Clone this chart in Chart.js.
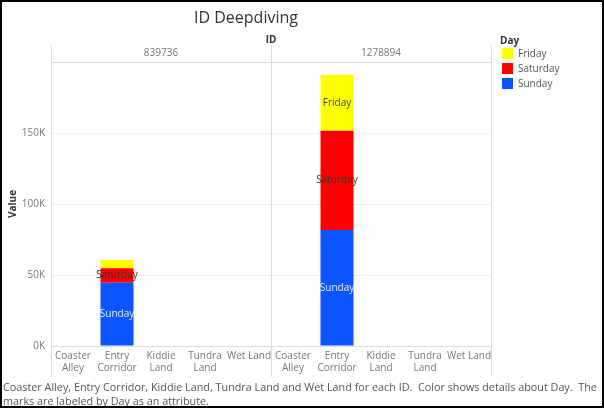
<!DOCTYPE html>
<html>
<head>
<meta charset="utf-8">
<script src="https://cdn.jsdelivr.net/npm/chart.js@4.4.1/dist/chart.umd.min.js"></script>
<style>
  body { margin: 0; background: #fff; font-family: "Open Sans", sans-serif; }
  #wrap { position: relative; width: 604px; height: 408px; overflow: hidden; }
  #frame { position: absolute; left: 0; top: 0; width: 604px; height: 408px; box-sizing: border-box; border: 2px solid #000; pointer-events: none; }
  #title { position: absolute; left: 0; top: 6px; width: 492px; text-align: center; font-size: 16px; color: #333; }
  #legend { position: absolute; left: 500px; top: 33px; font-size: 10px; color: #555; }
  #legend .head { font-weight: bold; color: #333; margin-bottom: -1px; }
  #legend .item { height: 15px; line-height: 15px; }
  #legend .sw { display: inline-block; width: 11px; height: 11px; vertical-align: -2px; margin: 0 5px 0 2px; }
  #caption { position: absolute; left: 3px; top: 380px; font-size: 10.8px; line-height: 13.5px; color: #555; white-space: nowrap; }
</style>
</head>
<body>
<div id="wrap">
  <canvas id="chart" width="604" height="408"></canvas>
  <div id="title">ID Deepdiving</div>
  <div id="legend"></div>
  <div id="caption">Coaster Alley, Entry Corridor, Kiddie Land, Tundra Land and Wet Land for each ID.&nbsp; Color shows details about Day.&nbsp; The<br>marks are labeled by Day as an attribute.</div>
  <div id="frame"></div>
</div>
<script>
// data
const areas = [["Coaster", "Alley"], ["Entry", "Corridor"], ["Kiddie", "Land"], ["Tundra", "Land"], "Wet Land"];
const ids = ["839736", "1278894"];
const days = ["Friday", "Saturday", "Sunday"];
const dayColors = ["#ffff00", "#ff0000", "#0a55ff"];
const dayTextColors = ["#444", "#333", "#e8eeff"];
// one value per area, first ID then second ID
const friday = [null, 5900, null, null, null, null, 39200, null, null, null];
const saturday = [null, 10100, null, null, null, null, 69900, null, null, null];
const sunday = [null, 44600, null, null, null, null, 81700, null, null, null];
const yTicks = [0, 50000, 100000, 150000];

const labels = ids.flatMap(() => areas);
const dayValues = [friday, saturday, sunday];

// legend (Friday on top like the picture)
const legend = document.getElementById("legend");
legend.innerHTML = '<div class="head">Day</div>' +
  days.map((d, i) => '<div class="item"><span class="sw" style="background:' + dayColors[i] + '"></span>' + d + "</div>").join("");

// Sunday at the bottom of the stack
const datasets = [2, 1, 0].map((i) => ({
  label: days[i],
  data: dayValues[i],
  backgroundColor: dayColors[i],
  textColor: dayTextColors[i],
  barPercentage: 0.75,
  categoryPercentage: 1,
}));

const panelLines = {
  id: "panelLines",
  beforeDatasetsDraw(chart) {
    const ctx = chart.ctx;
    const top = chart.scales.x2;
    const area = chart.chartArea;
    const mid = (top.getPixelForTick(0) + top.getPixelForTick(1)) / 2;
    ctx.save();
    ctx.strokeStyle = "#dcdcdc";
    ctx.lineWidth = 1;
    [area.left, mid, area.right].forEach((x) => {
      ctx.beginPath();
      ctx.moveTo(Math.round(x) + 0.5, 45);
      ctx.lineTo(Math.round(x) + 0.5, 377);
      ctx.stroke();
    });
    ctx.restore();
  },
};

const barLabels = {
  id: "barLabels",
  afterDatasetsDraw(chart) {
    const ctx = chart.ctx;
    ctx.save();
    ctx.font = "10px 'Open Sans', sans-serif";
    ctx.textAlign = "center";
    ctx.textBaseline = "middle";
    chart.data.datasets.forEach((ds, di) => {
      chart.getDatasetMeta(di).data.forEach((bar, i) => {
        if (ds.data[i] == null) return;
        const h = Math.abs(bar.base - bar.y);
        if (h < 12) return;
        ctx.fillStyle = ds.textColor;
        ctx.fillText(ds.label, bar.x, (bar.y + bar.base) / 2);
      });
    });
    ctx.restore();
  },
};

new Chart(document.getElementById("chart"), {
  type: "bar",
  data: { labels: labels, datasets: datasets },
  options: {
    responsive: false,
    animation: false,
    layout: { padding: { left: 0, right: 113, top: 30, bottom: 0 } },
    plugins: {
      legend: { display: false },
      tooltip: { enabled: false },
    },
    scales: {
      x: {
        stacked: true,
        offset: true,
        grid: { display: false, drawTicks: false },
        border: { display: true, color: "#dcdcdc" },
        ticks: { color: "#777", font: { size: 10, family: "'Open Sans', sans-serif" }, maxRotation: 0, autoSkip: false, padding: 4 },
        afterFit: (s) => { s.height = 62; },
      },
      x2: {
        type: "category",
        labels: ids,
        position: "top",
        offset: true,
        grid: { display: false, drawTicks: false },
        border: { display: false },
        ticks: { color: "#777", font: { size: 10, family: "'Open Sans', sans-serif" }, padding: 3 },
        title: { display: true, text: "ID", color: "#333", font: { size: 10, weight: "bold", family: "'Open Sans', sans-serif" }, padding: { top: 4, bottom: 4 } },
        afterFit: (s) => { s.height = 32; },
      },
      y: {
        stacked: true,
        min: 0,
        max: 200000,
        afterBuildTicks: (s) => { s.ticks = yTicks.concat([200000]).map((v) => ({ value: v })); },
        grid: { drawTicks: false, color: (c) => (c.tick && c.tick.value === 200000 ? "#dcdcdc" : "#f0f0f0") },
        border: { display: false },
        ticks: { color: "#777", padding: 6, font: { size: 10, family: "'Open Sans', sans-serif" }, callback: (v) => (v === 200000 ? "" : v / 1000 + "K") },
        title: { display: true, text: "Value", color: "#333", font: { size: 10, weight: "bold", family: "'Open Sans', sans-serif" }, padding: { top: 7, bottom: 0 } },
        afterFit: (s) => { s.width = 51; },
      },
    },
  },
  plugins: [panelLines, barLabels],
});
</script>
</body>
</html>
